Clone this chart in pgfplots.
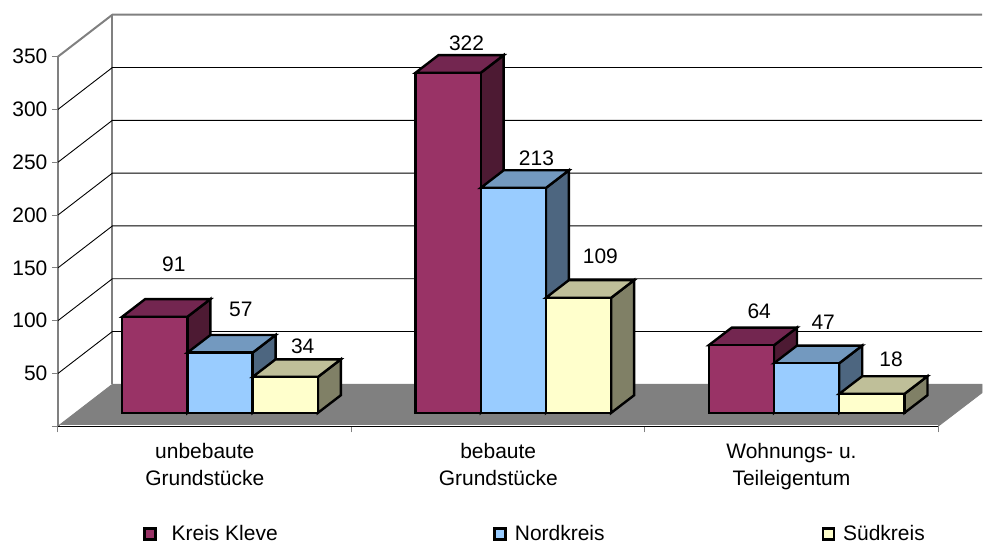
\documentclass[border=0pt]{standalone}
\usepackage{fontspec}
\setmainfont{Liberation Sans}
\usepackage{pgfplots}
\pgfplotsset{compat=1.18}

\definecolor{redF}{HTML}{993366}
\definecolor{redT}{HTML}{732650}
\definecolor{redS}{HTML}{4D1A33}
\definecolor{bluF}{HTML}{99CCFF}
\definecolor{bluT}{HTML}{7399BF}
\definecolor{bluS}{HTML}{4D6680}
\definecolor{yelF}{HTML}{FFFFCC}
\definecolor{yelT}{HTML}{BFBF99}
\definecolor{yelS}{HTML}{808066}
\definecolor{wall}{HTML}{808080}

% x is in picture pixels, y in chart units (1 unit = 1.0571 px)
\newcommand{\base}{12.7}  % bars stand this far above the front edge
\newcommand{\dx}{23}      % bar depth
\newcommand{\dy}{16.7}

% \threeDbar{left x}{value}{front}{top}{side}
\newcommand{\threeDbar}[5]{%
  \pgfmathsetmacro{\xa}{#1}%
  \pgfmathsetmacro{\xb}{#1+65.3}%
  \pgfmathsetmacro{\xc}{#1+65.3+\dx}%
  \pgfmathsetmacro{\xd}{#1+\dx}%
  \pgfmathsetmacro{\ya}{\base}%
  \pgfmathsetmacro{\yb}{\base+#2}%
  \pgfmathsetmacro{\yc}{\base+#2+\dy}%
  \pgfmathsetmacro{\ye}{\base+\dy}%
  \addplot[forget plot, draw=black, line width=2.4pt, fill=#5] coordinates {(\xb,\ya) (\xc,\ye) (\xc,\yc) (\xb,\yb)} --cycle;
  \addplot[forget plot, draw=black, line width=2.4pt, fill=#4] coordinates {(\xa,\yb) (\xd,\yc) (\xc,\yc) (\xb,\yb)} --cycle;
  \addplot[forget plot, draw=black, line width=2.4pt, fill=#3] coordinates {(\xa,\ya) (\xb,\ya) (\xb,\yb) (\xa,\yb)} --cycle;
}

% gridline on the side wall and the back wall
\newcommand{\gridl}[2][black]{%
  \pgfmathsetmacro{\yv}{#2+39.7}%
  \addplot[forget plot, draw=#1, line width=0.9pt] coordinates {(58,#2) (112.5,\yv) (983,\yv)};
}

\newcommand{\chartfont}{\fontsize{21}{27}\selectfont}

\begin{document}
\begin{tikzpicture}
\begin{axis}[
  scale only axis,
  width=881pt, height=370pt,
  xmin=58, xmax=939, ymin=0, ymax=350,
  clip=false,
  axis y line*=left, axis x line*=bottom,
  y axis line style={draw=wall, line width=2pt},
  x axis line style={draw=black, line width=0.9pt},
  xtick={58,352,645.5,939},
  x tick label as interval,
  xticklabels={unbebaute\\Grundstücke,bebaute\\Grundstücke,Wohnungs- u.\\Teileigentum},
  x tick label style={align=center, font=\chartfont, yshift=-8pt},
  ytick={0,50,100,150,200,250,300,350},
  yticklabels={,50,100,150,200,250,300,350},
  y tick label style={font=\chartfont, xshift=-1pt},
  /pgf/number format/assume math mode=true,
  tick align=outside,
  major tick length=6pt,
  tick style={draw=wall, line width=0.9pt},
  legend columns=3,
  legend style={draw=none, fill=none, at={(axis cs:143,-102)}, anchor=west,
    font=\chartfont,
    /tikz/every even column/.style={column sep=4pt}},
  legend cell align=left,
  every axis legend/.append style={inner sep=0pt},
]
% walls and floor
\addplot[forget plot, draw=wall, line width=2pt] coordinates {(58,350) (112.5,389.7) (983,389.7)};
\addplot[forget plot, draw=wall, line width=2pt] coordinates {(112.5,389.7) (112.5,39.7)};
\gridl{50}
\gridl{100}
\gridl{150}
\gridl{200}
\gridl{250}
\gridl{300}
\addplot[forget plot, draw=wall, line width=0.9pt, fill=wall] coordinates {(58,0) (112.5,39.7) (983,39.7) (983,31.8) (939,0)} --cycle;
\addplot[forget plot, draw=white, line width=0.9pt] coordinates {(60,1.2) (939,1.2)};
\addplot[forget plot, draw=black, line width=0.9pt] coordinates {(58,0) (939,0)};

% unbebaute Grundstuecke
\threeDbar{122.3}{91}{redF}{redT}{redS}
\threeDbar{187.6}{57}{bluF}{bluT}{bluS}
\threeDbar{252.9}{34}{yelF}{yelT}{yelS}
% bebaute Grundstuecke
\threeDbar{415.9}{322}{redF}{redT}{redS}
\threeDbar{481.2}{213}{bluF}{bluT}{bluS}
\threeDbar{546.5}{109}{yelF}{yelT}{yelS}
% Wohnungs- u. Teileigentum
\threeDbar{709.5}{64}{redF}{redT}{redS}
\threeDbar{774.8}{47}{bluF}{bluT}{bluS}
\threeDbar{840.1}{18}{yelF}{yelT}{yelS}

% value labels, placed as in the original
\addplot[forget plot, draw=none, mark=none,
  point meta=explicit symbolic,
  nodes near coords,
  every node near coord/.style={anchor=center, inner sep=0pt, font=\chartfont}]
  coordinates {
  (174,153)[91] (241,110.4)[57] (303,75.4)[34]
  (467,363)[322] (537,254.2)[213] (601,160.5)[109]
  (760,108.5)[64] (824,98.1)[47] (892,63.1)[18]};

\addlegendimage{legend image code/.code={\draw[fill=redF,draw=black,line width=2.6pt] (0pt,-5.5pt) rectangle (11pt,5.5pt);}}
\addlegendentry{\makebox[329pt][l]{\hspace*{13pt}Kreis Kleve}}
\addlegendimage{legend image code/.code={\draw[fill=bluF,draw=black,line width=2.6pt] (0pt,-5.5pt) rectangle (11pt,5.5pt);}}
\addlegendentry{\makebox[307pt][l]{\hspace*{6pt}Nordkreis}}
\addlegendimage{legend image code/.code={\draw[fill=yelF,draw=black,line width=2.6pt] (0pt,-5.5pt) rectangle (11pt,5.5pt);}}
\addlegendentry{\hspace*{6pt}Südkreis}
\end{axis}
\path[use as bounding box] (-58pt,-118.3pt) rectangle (925pt,426.7pt);
\end{tikzpicture}
\end{document}
